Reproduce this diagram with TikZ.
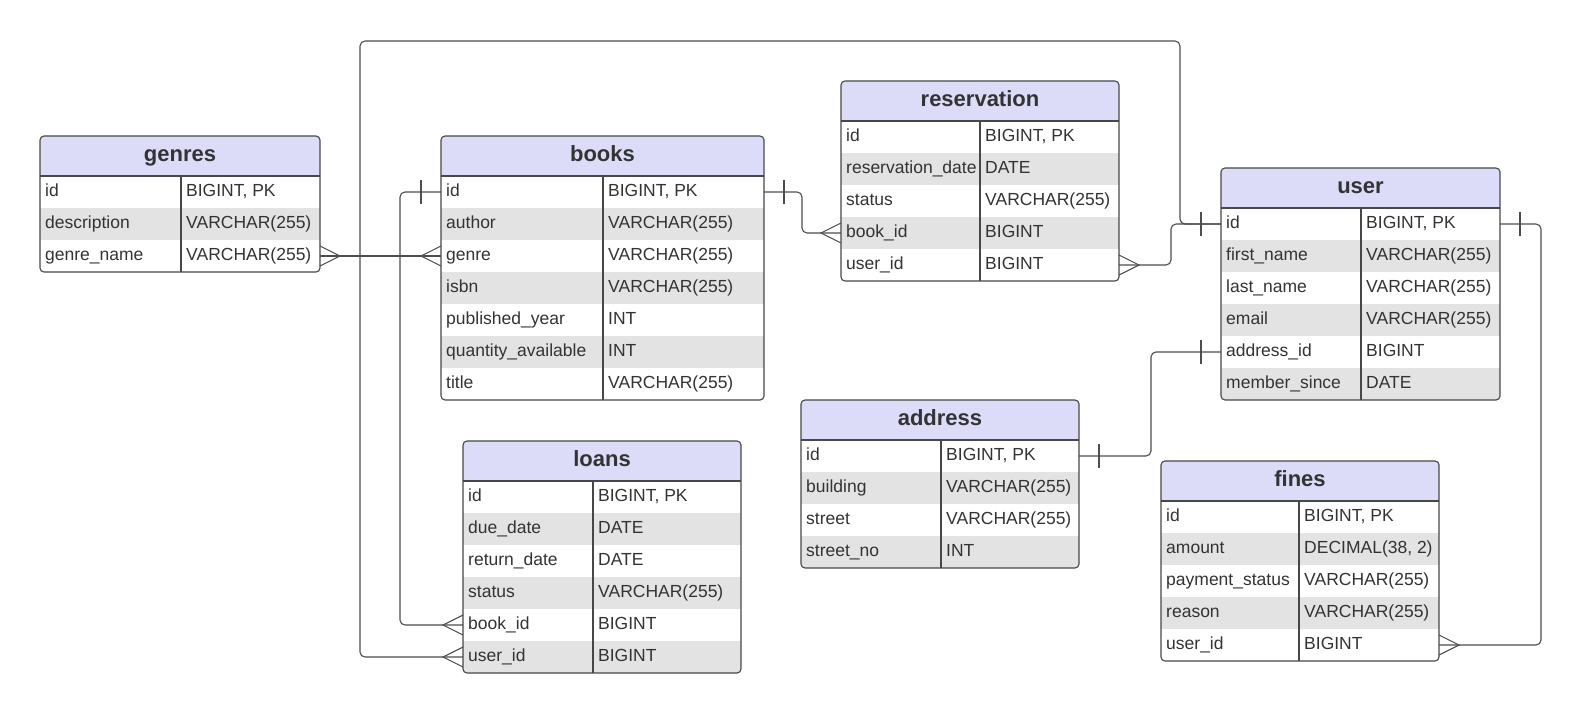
\documentclass[tikz,border=0pt]{standalone}
\usepackage{fontspec}
\setmainfont{Liberation Sans}
\usetikzlibrary{calc}
\definecolor{hdr}{HTML}{DCDCF8}
\definecolor{rowgray}{HTML}{E3E3E3}
\definecolor{edgecol}{HTML}{474747}
\definecolor{txt}{HTML}{333333}
\definecolor{lnk}{HTML}{4D4D4D}
\newcommand\pk{BIGINT, PK}
\newcommand\decval{DECIMAL(38, 2)}
\tikzset{
 conn/.style={draw=lnk, line width=1.1pt, rounded corners=5pt},
 tip/.style={draw=lnk, line width=1.1pt},
 rowbox/.style={inner sep=0pt, outer sep=0pt, minimum height=32pt, anchor=north west},
 fieldtxt/.style={inner sep=0pt, anchor=base west, text=txt, font=\fontsize{17.5}{20}\selectfont},
 titletxt/.style={inner sep=0pt, anchor=base, text=txt, font=\fontsize{22}{26}\selectfont\bfseries},
 frame/.style={draw=edgecol, line width=1.1pt, rounded corners=4pt},
 rule/.style={draw=edgecol, line width=1.1pt}
}
% name, xl, xr, xdiv, ytop, nrows, title, list
\newcommand\erdtable[8]{%
 \pgfmathsetmacro\tbot{#5+40+32*#6}
 \begin{scope}
  \clip[rounded corners=4pt] (#2,#5) rectangle (#3,\tbot);
  \node[rowbox, fill=hdr, minimum width=#3-#2, minimum height=40pt] (#1-h) at (#2,#5) {};
  \foreach \f/\t [count=\i] in {#8} {
    \ifodd\i \def\rf{white}\else\def\rf{rowgray}\fi
    \node[rowbox, fill=\rf, minimum width=#3-#2] (#1-\i) at (#2,#5+40+32*\i-32) {};
    \node[fieldtxt] (#1-\i-f) at (#2+5,#5+40+32*\i-16+4.8) {\f};
    \node[fieldtxt] (#1-\i-t) at (#4+5,#5+40+32*\i-16+4.8) {\t};
  }
 \end{scope}
 \node[titletxt] (#1-title) at ($(#1-h.center)+(0,5.5)$) {#7};
 \draw[rule] (#2,#5+40) -- (#3,#5+40);
 \draw[rule] (#4,#5+40) -- (#4,\tbot);
 \draw[frame] (#2,#5) rectangle (#3,\tbot);
}
\newcommand\crowl[1]{\draw[tip] ($(#1)+(0,-10)$) -- ($(#1)+(-20,0)$) -- ($(#1)+(0,10)$);}
\newcommand\crowr[1]{\draw[tip] ($(#1)+(0,-10)$) -- ($(#1)+(20,0)$) -- ($(#1)+(0,10)$);}
\newcommand\bartick[2]{\draw[tip] ($(#1)+(#2,-12)$) -- ($(#1)+(#2,12)$);}
\begin{document}
\begin{tikzpicture}[x=1pt,y=-1pt]
\fill[white] (0,0) rectangle (1581,712);
\useasboundingbox (0,0) rectangle (1581,712);

\erdtable{genres}{40}{320}{181}{136}{3}{genres}{id/\pk, description/VARCHAR(255), genre\_name/VARCHAR(255)}
\erdtable{books}{441}{764}{603}{136}{7}{books}{id/\pk, author/VARCHAR(255), genre/VARCHAR(255), isbn/VARCHAR(255), published\_year/INT, quantity\_available/INT, title/VARCHAR(255)}
\erdtable{reservation}{841}{1119}{980}{81}{5}{reservation}{id/\pk, reservation\_date/DATE, status/VARCHAR(255), book\_id/BIGINT, user\_id/BIGINT}
\erdtable{user}{1221}{1500}{1361}{168}{6}{user}{id/\pk, first\_name/VARCHAR(255), last\_name/VARCHAR(255), email/VARCHAR(255), address\_id/BIGINT, member\_since/DATE}
\erdtable{address}{801}{1079}{941}{400}{4}{address}{id/\pk, building/VARCHAR(255), street/VARCHAR(255), street\_no/INT}
\erdtable{loans}{463}{741}{593}{441}{6}{loans}{id/\pk, due\_date/DATE, return\_date/DATE, status/VARCHAR(255), book\_id/BIGINT, user\_id/BIGINT}
\erdtable{fines}{1161}{1439}{1299}{461}{5}{fines}{id/\pk, amount/\decval, payment\_status/VARCHAR(255), reason/VARCHAR(255), user\_id/BIGINT}

% genres -- books
\draw[conn] (genres-3.east) -- (books-3.west);
\crowr{genres-3.east}
\crowl{books-3.west}
% books.id -> loans.book_id
\draw[conn] (books-1.west) -- ++(-41,0) |- (loans-5.west);
\bartick{books-1.west}{-20}
\crowl{loans-5.west}
% user.id -> loans.user_id
\coordinate (topleft) at (360,41);
\draw[conn] (user-1.west) -- ++(-41,0) |- (topleft) |- (loans-6.west);
\bartick{user-1.west}{-20}
\crowl{loans-6.west}
% reservation.user_id -> user.id
\draw[conn] (reservation-5.east) -- ++(52,0) |- (user-1.west);
\crowr{reservation-5.east}
% books.id -> reservation.book_id
\draw[conn] (books-1.east) -- ++(38,0) |- (reservation-4.west);
\bartick{books-1.east}{20}
\crowl{reservation-4.west}
% user.id -> fines.user_id
\draw[conn] (user-1.east) -- ++(41,0) |- (fines-5.east);
\bartick{user-1.east}{20}
\crowr{fines-5.east}
% user.address_id -- address.id
\draw[conn] (user-5.west) -- ++(-70,0) |- (address-1.east);
\bartick{user-5.west}{-20}
\bartick{address-1.east}{20}
\end{tikzpicture}
\end{document}
